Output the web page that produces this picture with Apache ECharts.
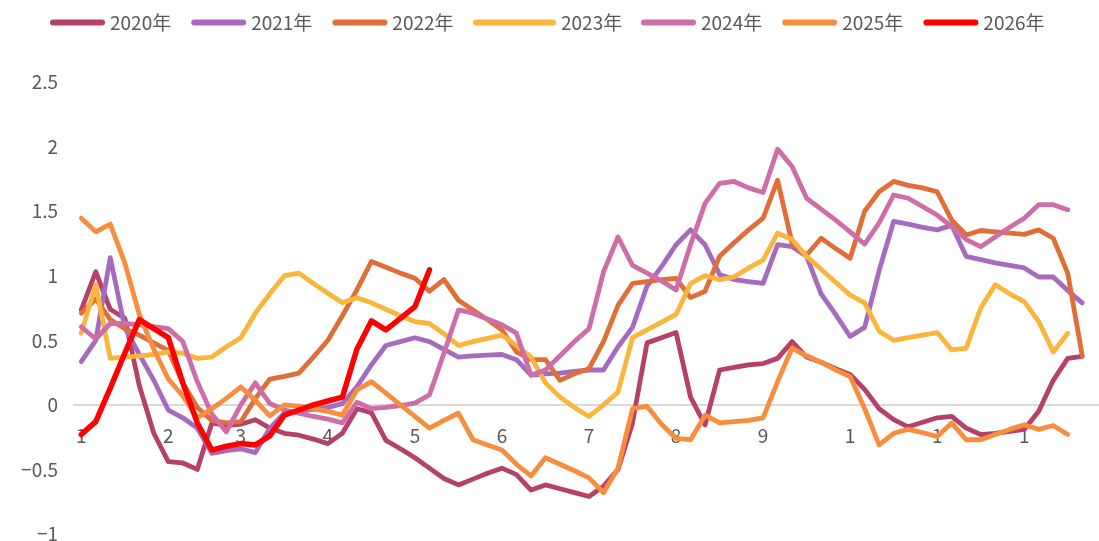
<!DOCTYPE html>
<html>
<head>
<meta charset="utf-8">
<script src="https://cdn.jsdelivr.net/npm/echarts@6/dist/echarts.min.js"></script>
<style>
  html, body { margin: 0; padding: 0; background: #ffffff; }
  #chart { width: 1099px; height: 541px; }
</style>
</head>
<body>
<div id="chart"></div>
<script>
// Weekly-style series, one point per period; 71 periods on the axis.
const periodCount = 71;
// Period index where each month label sits, and the text drawn there.
const monthTicks = [0, 6, 11, 17, 23, 29, 35, 41, 47, 53, 59, 65];
const monthLabels = ['1', '2', '3', '4', '5', '6', '7', '8', '9', '1', '1', '1'];

const seriesNames = ['2020年', '2021年', '2022年', '2023年', '2024年', '2025年', '2026年'];
const seriesColors = ['#B5406A', '#A66BBE', '#DF6E37', '#FBB53C', '#CF6DA8', '#F98D3E', '#FF0000'];

const y2020 = [0.735, 1.03, 0.74, 0.67, 0.15, -0.22, -0.44, -0.45, -0.50, -0.14,
  -0.16, -0.15, -0.115, -0.18, -0.22, -0.235, -0.265, -0.30, -0.22, -0.03,
  -0.06, -0.275, -0.34, -0.41, -0.49, -0.57, -0.62, -0.575, -0.53, -0.49,
  -0.54, -0.66, -0.62, -0.65, -0.68, -0.71, -0.63, -0.50, -0.14, 0.48,
  0.52, 0.56, 0.06, -0.155, 0.27, 0.29, 0.31, 0.32, 0.36, 0.49,
  0.37, 0.33, 0.28, 0.235, 0.12, -0.03, -0.115, -0.17, -0.135, -0.10,
  -0.09, -0.18, -0.23, -0.22, -0.205, -0.19, -0.05, 0.19, 0.36, 0.375];

const y2021 = [0.335, 0.50, 1.14, 0.60, 0.39, 0.19, -0.04, -0.10, -0.18, -0.375,
  -0.355, -0.34, -0.37, -0.18, -0.065, -0.05, -0.035, -0.02, 0.01, 0.14,
  0.31, 0.46, 0.49, 0.52, 0.49, 0.43, 0.37, 0.38, 0.385, 0.39,
  0.35, 0.23, 0.24, 0.245, 0.26, 0.27, 0.27, 0.45, 0.60, 0.92,
  1.07, 1.24, 1.355, 1.24, 1.01, 0.97, 0.955, 0.94, 1.24, 1.225,
  1.15, 0.86, 0.70, 0.53, 0.60, 1.04, 1.42, 1.40, 1.375, 1.355,
  1.39, 1.15, 1.125, 1.10, 1.08, 1.06, 0.99, 0.99, 0.885, 0.79];

const y2022 = [0.71, 0.82, 0.66, 0.59, 0.54, 0.48, 0.42, 0.17, -0.02, -0.12,
  -0.14, -0.13, 0.05, 0.20, 0.22, 0.245, 0.37, 0.50, 0.69, 0.89,
  1.11, 1.065, 1.02, 0.98, 0.88, 0.97, 0.81, 0.735, 0.66, 0.58,
  0.41, 0.35, 0.35, 0.19, 0.24, 0.28, 0.49, 0.77, 0.94, 0.955,
  0.97, 0.98, 0.83, 0.88, 1.15, 1.255, 1.355, 1.445, 1.74, 1.25,
  1.16, 1.29, 1.21, 1.135, 1.50, 1.65, 1.73, 1.70, 1.68, 1.65,
  1.43, 1.315, 1.35, 1.34, 1.33, 1.32, 1.355, 1.29, 1.02, 0.38];

const y2023 = [0.555, 0.93, 0.36, 0.37, 0.38, 0.39, 0.41, 0.40, 0.36, 0.37,
  0.45, 0.52, 0.71, 0.86, 1.0, 1.02, 0.94, 0.865, 0.79, 0.83,
  0.79, 0.74, 0.69, 0.645, 0.63, 0.55, 0.46, 0.49, 0.515, 0.54,
  0.46, 0.37, 0.17, 0.06, -0.02, -0.09, 0.0, 0.10, 0.52, 0.58,
  0.64, 0.70, 0.94, 1.0, 0.97, 0.99, 1.06, 1.12, 1.33, 1.28,
  1.15, 1.05, 0.95, 0.85, 0.79, 0.57, 0.50, 0.52, 0.54, 0.56,
  0.425, 0.44, 0.75, 0.93, 0.86, 0.80, 0.645, 0.41, 0.555];

const y2024 = [0.605, 0.51, 0.63, 0.63, 0.62, 0.605, 0.59, 0.49, 0.18, -0.07,
  -0.21, 0.0, 0.17, 0.01, -0.04, -0.065, -0.09, -0.11, -0.14, 0.02,
  -0.03, -0.02, -0.005, 0.013, 0.077, 0.40, 0.735, 0.71, 0.665, 0.62,
  0.555, 0.23, 0.27, 0.38, 0.49, 0.59, 1.03, 1.30, 1.08, 1.02,
  0.96, 0.89, 1.24, 1.56, 1.715, 1.73, 1.68, 1.645, 1.98, 1.845,
  1.60, 1.515, 1.43, 1.34, 1.245, 1.41, 1.625, 1.60, 1.535, 1.47,
  1.38, 1.28, 1.225, 1.30, 1.375, 1.445, 1.55, 1.55, 1.51];

const y2025 = [1.445, 1.34, 1.40, 1.10, 0.70, 0.43, 0.20, 0.07, -0.10, -0.03,
  0.05, 0.14, 0.035, -0.085, 0.0, -0.01, -0.03, -0.05, -0.08, 0.115,
  0.18, 0.09, 0.0, -0.09, -0.18, -0.12, -0.065, -0.27, -0.31, -0.35,
  -0.46, -0.55, -0.41, -0.46, -0.51, -0.565, -0.68, -0.49, -0.03, -0.01,
  -0.15, -0.26, -0.27, -0.08, -0.14, -0.13, -0.12, -0.10, 0.18, 0.44,
  0.38, 0.33, 0.27, 0.22, -0.03, -0.31, -0.22, -0.19, -0.215, -0.245,
  -0.14, -0.27, -0.27, -0.23, -0.19, -0.155, -0.19, -0.16, -0.23];

const y2026 = [-0.23, -0.13, 0.13, 0.40, 0.66, 0.59, 0.52, 0.17, -0.14, -0.35,
  -0.32, -0.30, -0.31, -0.24, -0.08, -0.04, 0.0, 0.03, 0.06, 0.43,
  0.65, 0.58, 0.67, 0.76, 1.045];

const yTicks = { min: -1, max: 2.5, interval: 0.5 };

const allValues = [y2020, y2021, y2022, y2023, y2024, y2025, y2026];

// Category list: month number at the first period of each month, blank elsewhere.
const categories = [];
for (let i = 0; i < periodCount; i++) {
  const k = monthTicks.indexOf(i);
  categories.push(k >= 0 ? monthLabels[k] : '');
}

const textColor = '#595959';
const fontFamily = '"Noto Sans CJK SC", "Noto Sans", sans-serif';

// Plot box
const gridTop = 82;
const gridHeight = 452;
// The category axis is lifted from the bottom edge up to the zero line.
const zeroLift = gridHeight * (0 - yTicks.min) / (yTicks.max - yTicks.min);

// Rounded swatch path sized to the swatch box, so it is never stretched.
function capsule(w) {
  return 'path://M3,0 L' + (w - 3) + ',0 A3,3 0 0 1 ' + (w - 3) + ',6 L3,6 A3,3 0 0 1 3,0 Z';
}
// Legend rows share one look; the 2023 key has a longer swatch.
function legendBlock(names, left, swatchWidth) {
  return {
    data: names,
    top: 8,
    left: left,
    itemWidth: swatchWidth,
    itemHeight: 6,
    itemGap: 20,
    icon: capsule(swatchWidth),
    textStyle: { color: textColor, fontSize: 19, fontFamily: fontFamily }
  };
}

const chart = echarts.init(document.getElementById('chart'), null, { renderer: 'canvas' });

chart.setOption({
  backgroundColor: '#ffffff',
  animation: false,
  color: seriesColors,
  legend: [
    legendBlock(seriesNames.slice(0, 3), 45, 55),
    legendBlock(seriesNames.slice(3, 4), 468, 83),
    legendBlock(seriesNames.slice(4), 636, 55)
  ],
  grid: {
    left: 74, top: gridTop, width: 1030, height: gridHeight,
    containLabel: false,
    outerBoundsMode: 'none'
  },
  xAxis: {
    type: 'category',
    data: categories,
    boundaryGap: true,
    position: 'bottom',
    offset: -zeroLift,
    axisLine: { onZero: false, lineStyle: { color: '#D9D9D9', width: 2 } },
    axisTick: { show: false },
    axisLabel: {
      interval: 0,
      color: textColor,
      fontSize: 19,
      fontFamily: fontFamily,
      margin: 21
    },
    splitLine: { show: false }
  },
  yAxis: {
    type: 'value',
    min: yTicks.min,
    max: yTicks.max,
    interval: yTicks.interval,
    axisLine: { show: false },
    axisTick: { show: false },
    splitLine: { show: false },
    axisLabel: {
      color: textColor,
      fontSize: 19,
      fontFamily: fontFamily,
      margin: 16,
      formatter: function (v) {
        const s = String(Math.abs(Math.round(v * 10) / 10));
        return v < 0 ? '\u2212' + s : s;
      }
    }
  },
  series: seriesNames.map(function (name, idx) {
    return {
      name: name,
      type: 'line',
      data: allValues[idx],
      showSymbol: false,
      symbol: 'none',
      smooth: false,
      lineStyle: {
        color: seriesColors[idx],
        width: idx === 6 ? 5.5 : 4.8,
        cap: 'round',
        join: 'round'
      },
      itemStyle: { color: seriesColors[idx] },
      emphasis: { disabled: true }
    };
  })
});
</script>
</body>
</html>
